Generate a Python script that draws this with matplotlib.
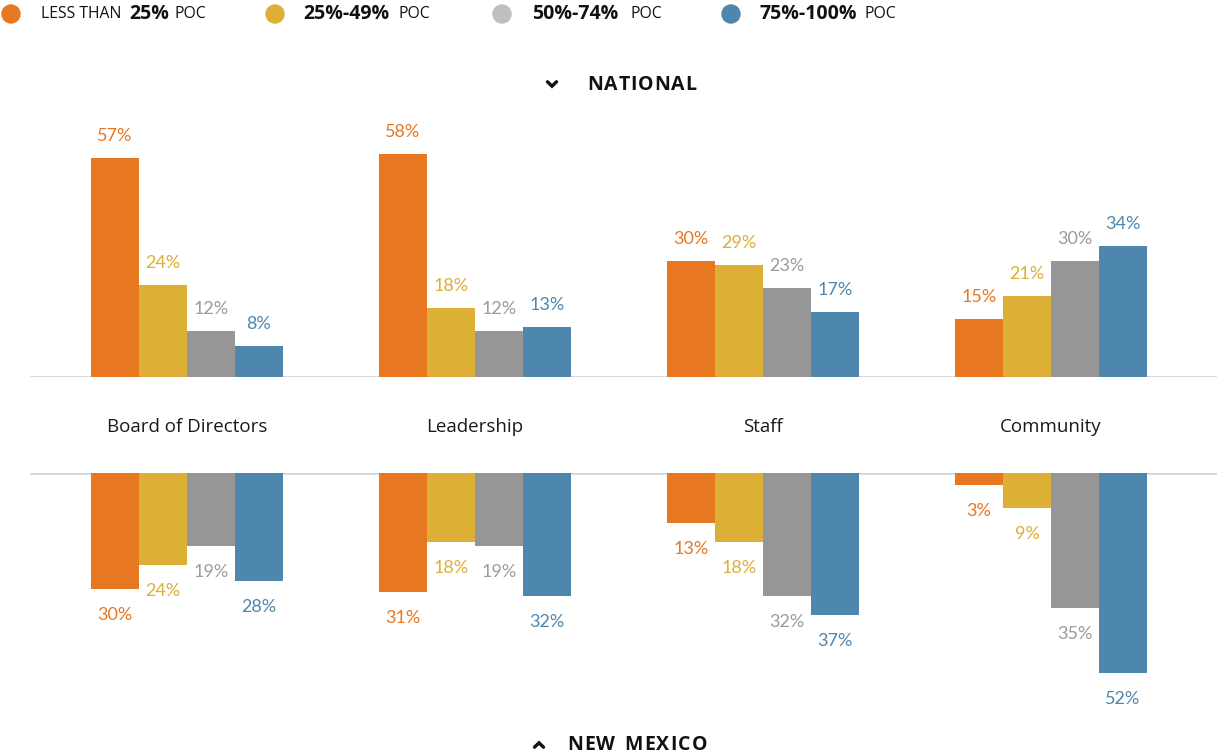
import matplotlib
matplotlib.use("Agg")
import matplotlib.pyplot as plt
import numpy as np
from matplotlib.patches import Ellipse
from matplotlib.lines import Line2D
from matplotlib.font_manager import FontProperties

# ---- data ----
categories = ["Board of Directors", "Leadership", "Staff", "Community"]
national = {
    "lt25": [57, 58, 30, 15],
    "25_49": [24, 18, 29, 21],
    "50_74": [12, 12, 23, 30],
    "75_100": [8, 13, 17, 34],
}
new_mexico = {
    "lt25": [30, 31, 13, 3],
    "25_49": [24, 18, 18, 9],
    "50_74": [19, 19, 32, 35],
    "75_100": [28, 32, 37, 52],
}
series_keys = ["lt25", "25_49", "50_74", "75_100"]

bar_colors = ["#E87722", "#DDAF37", "#969696", "#4E87AD"]
label_colors = ["#E87722", "#DDAF37", "#9B9B9B", "#4E87AD"]
legend_colors = ["#E87722", "#DDAF37", "#BFBFBF", "#4E87AD"]

W, H = 1217, 755
fig = plt.figure(figsize=(W / 100, H / 100), dpi=100)
fig.patch.set_facecolor("white")
renderer = fig.canvas.get_renderer()

def fx(px):
    return px / W

def fy(py):
    return 1 - py / H

# x in units of group spacing; group centres at 187 + 288*i px
x_left = (0 - 187) / 288
x_right = (W - 187) / 288
bar_w = 48 / 288
offsets = (np.arange(4) - 1.5) * bar_w
x = np.arange(len(categories))

px_per_pct = 3.85
ymax = 60
h_frac = ymax * px_per_pct / H

ax_top = fig.add_axes([0, fy(377), 1, h_frac])
ax_bot = fig.add_axes([0, fy(473) - h_frac, 1, h_frac])

num_font = "Lato"

for ax, data, down in [(ax_top, national, False), (ax_bot, new_mexico, True)]:
    ax.set_xlim(x_left, x_right)
    if down:
        ax.set_ylim(ymax, 0)
    else:
        ax.set_ylim(0, ymax)
    ax.axis("off")
    ax.axhline(0, xmin=31 / W, xmax=1, color="#D6D6D6", lw=2, zorder=1)
    for k, key in enumerate(series_keys):
        vals = data[key]
        ax.bar(x + offsets[k], vals, width=bar_w, color=bar_colors[k],
               align="center", zorder=2, linewidth=0)
        for i, v in enumerate(vals):
            dy = -26 if down else 22
            ax.annotate(f"{v}%", (x[i] + offsets[k], v),
                        xytext=(0, dy * 0.72),
                        textcoords="offset points", ha="center", va="center",
                        color=label_colors[k], fontsize=13, family=num_font,
                        clip_on=False)

# category labels between the two panels
for i, c in enumerate(categories):
    fig.text(fx(187 + 288 * i), fy(427), c, ha="center", va="center",
             fontsize=13.5, family="Open Sans", color="#1a1a1a")


def spaced_text(x_px, y_px, s, fp, tracking, color):
    """Draw s letter by letter starting at x_px, adding tracking px between glyphs."""
    cur = x_px
    for ch in s:
        fig.text(fx(cur), fy(y_px), ch, ha="left", va="center",
                 fontproperties=fp, color=color)
        w, _, _ = renderer.get_text_width_height_descent(ch if ch != " " else "n", fp, ismath=False)
        if ch == " ":
            w *= 0.55
        cur += w + tracking


head_fp = FontProperties(family="Open Sans", weight="bold", size=14)
spaced_text(587, 85, "NATIONAL", head_fp, 0.9, "#111111")
spaced_text(567, 745, "NEW MEXICO", head_fp, 1.2, "#111111")

def chevron(cx, cy, up):
    s = 4.5
    d = -1 if up else 1
    xs = [cx - s, cx, cx + s]
    ys = [cy - d * 2.2, cy + d * 2.2, cy - d * 2.2]
    fig.add_artist(Line2D([fx(v) for v in xs], [fy(v) for v in ys],
                          color="#111111", lw=2.4, solid_capstyle="round",
                          solid_joinstyle="miter"))

chevron(552, 84, up=False)
chevron(539, 745, up=True)

# legend
legend_items = [
    (11, [(41, "LESS THAN", 11.3, "normal"), (129, "25%", 14, "bold"), (175, "POC", 11.3, "normal")]),
    (275, [(303, "25%-49%", 14, "bold"), (399, "POC", 11.3, "normal")]),
    (502, [(532, "50%-74%", 14, "bold"), (631, "POC", 11.3, "normal")]),
    (731, [(759, "75%-100%", 14, "bold"), (864, "POC", 11.3, "normal")]),
]
for k, (cx, parts) in enumerate(legend_items):
    fig.add_artist(Ellipse((fx(cx), fy(14)), 18 / W, 18 / H,
                           color=legend_colors[k], transform=fig.transFigure))
    for px, txt, size, wt in parts:
        fig.text(fx(px), fy(14), txt, ha="left", va="center", fontsize=size,
                 weight=wt, family="Open Sans", color="#111111")

fig.savefig("out.png", dpi=100, facecolor="white")
